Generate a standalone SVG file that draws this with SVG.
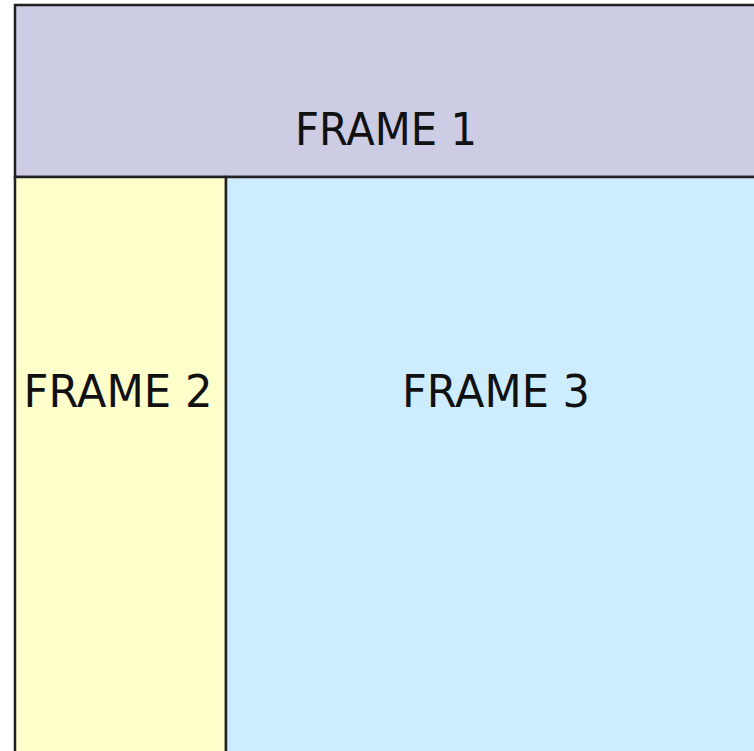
<svg xmlns="http://www.w3.org/2000/svg" width="754" height="751" viewBox="0 0 754 751">
<style>
.frame{stroke:#222;stroke-width:2.5}
.lbl{font-family:"DejaVu Sans","Liberation Sans",sans-serif;font-size:44px;fill:#111;text-anchor:middle}
</style>
<rect x="0" y="0" width="754" height="751" fill="#ffffff"/>
<g id="frame1">
<rect class="frame" x="15" y="5" width="745" height="172" fill="#ccccE4"/>
<text class="lbl" x="386" y="145" textLength="182" lengthAdjust="spacingAndGlyphs">FRAME 1</text>
</g>
<g id="frame2">
<rect class="frame" x="15" y="177" width="211" height="580" fill="#ffffcc"/>
<text class="lbl" x="118" y="407" textLength="189" lengthAdjust="spacingAndGlyphs">FRAME 2</text>
</g>
<g id="frame3">
<rect class="frame" x="226" y="177" width="534" height="580" fill="#cdedff"/>
<text class="lbl" x="496" y="407" textLength="188" lengthAdjust="spacingAndGlyphs">FRAME 3</text>
</g>
<g id="connectors"/>
</svg>
